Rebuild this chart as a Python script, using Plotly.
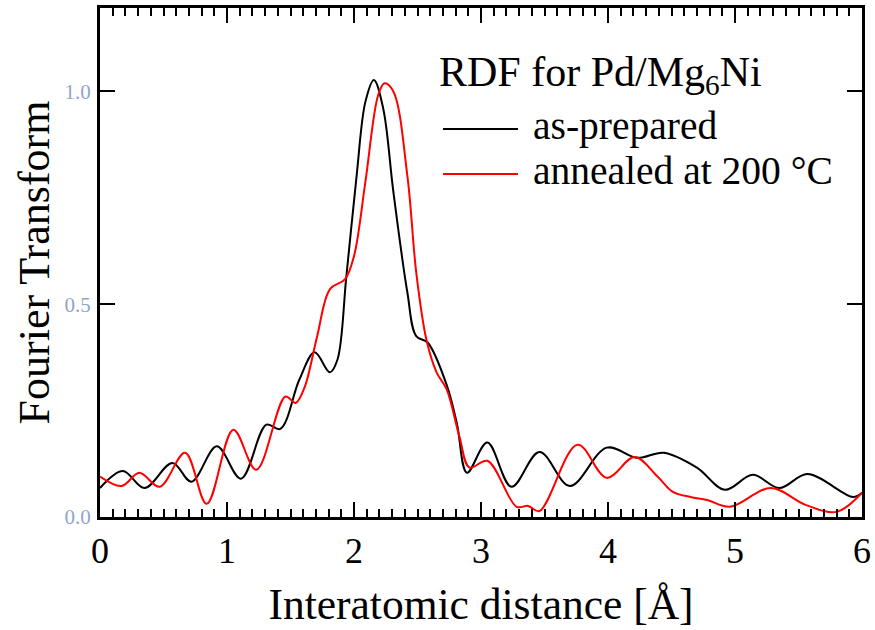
import plotly.graph_objects as go

# ---- data ----
asprep_x = [0.00, 0.18, 0.35, 0.57, 0.72, 0.92, 1.11, 1.31, 1.42, 1.57, 1.69, 1.81, 1.87, 1.94,
            2.02, 2.09, 2.157, 2.23, 2.31, 2.42, 2.49, 2.58, 2.73, 2.81, 2.89, 3.05, 3.24, 3.46,
            3.70, 3.99, 4.23, 4.44, 4.70, 4.92, 5.14, 5.35, 5.57, 5.93, 6.00]
asprep_y = [0.068, 0.108, 0.068, 0.127, 0.083, 0.166, 0.090, 0.217, 0.207, 0.323, 0.387, 0.340, 0.370, 0.566,
            0.800, 0.976, 1.027, 0.960, 0.764, 0.528, 0.425, 0.410, 0.310, 0.220, 0.104, 0.175, 0.071, 0.153,
            0.073, 0.163, 0.139, 0.151, 0.116, 0.064, 0.099, 0.068, 0.101, 0.047, 0.057]

anneal_x = [0.00, 0.17, 0.31, 0.47, 0.67, 0.84, 1.05, 1.23, 1.46, 1.54, 1.61, 1.71, 1.81, 1.93,
            2.00, 2.09, 2.19, 2.24, 2.31, 2.42, 2.49, 2.57, 2.65, 2.73, 2.83, 2.91, 3.05, 3.28,
            3.37, 3.46, 3.76, 3.99, 4.21, 4.39, 4.51, 4.65, 4.78, 4.96, 5.28, 5.56, 5.80, 6.00]
anneal_y = [0.095, 0.073, 0.104, 0.071, 0.151, 0.031, 0.205, 0.111, 0.283, 0.268, 0.304, 0.425, 0.535, 0.559,
            0.613, 0.788, 0.991, 1.019, 1.000, 0.802, 0.575, 0.417, 0.340, 0.300, 0.189, 0.116, 0.132, 0.024,
            0.026, 0.014, 0.170, 0.092, 0.141, 0.095, 0.059, 0.047, 0.040, 0.024, 0.068, 0.028, 0.012, 0.057]

x_ticks = [0, 1, 2, 3, 4, 5, 6]
y_ticks = [0.0, 0.5, 1.0]
y_tick_labels = ["0.0", "0.5", "1.0"]

legend_title = "RDF for Pd/Mg<sub>6</sub>Ni"
series_names = ["as-prepared", "annealed at 200 °C"]
series_colors = ["#000000", "#ff0000"]

FONT = "Liberation Serif"

fig = go.Figure()
fig.add_trace(go.Scatter(x=asprep_x, y=asprep_y, mode="lines", name=series_names[0],
                         line=dict(color=series_colors[0], width=2, shape="spline", smoothing=1.0)))
fig.add_trace(go.Scatter(x=anneal_x, y=anneal_y, mode="lines", name=series_names[1],
                         line=dict(color=series_colors[1], width=2, shape="spline", smoothing=1.0)))

W, H = 875, 630
L, R, T, B = 100, 13, 8, 113
pw, ph = W - L - R, H - T - B

def px(xp):
    return (xp - L) / pw

def py(yp):
    return (H - B - yp) / ph

# legend drawn as annotations + line samples
fig.add_annotation(x=px(437), y=py(75), xref="paper", yref="paper", text=legend_title,
                   showarrow=False, xanchor="left", yanchor="middle",
                   font=dict(family=FONT, size=42, color="black"))
for i, (name, col) in enumerate(zip(series_names, series_colors)):
    yl = [129, 174][i]
    fig.add_shape(type="line", xref="paper", yref="paper", x0=px(443), x1=px(518),
                  y0=py(yl), y1=py(yl), line=dict(color=col, width=2))
    fig.add_annotation(x=px(531), y=py(yl - 3), xref="paper", yref="paper", text=name,
                       showarrow=False, xanchor="left", yanchor="middle",
                       font=dict(family=FONT, size=39.5, color="black"))

fig.update_layout(
    width=W, height=H,
    margin=dict(l=L, r=R, t=T, b=B, autoexpand=False),
    paper_bgcolor="white", plot_bgcolor="white",
    showlegend=False,
    font=dict(family=FONT, color="black"),
    xaxis=dict(range=[0, 6], tickvals=x_ticks, ticks="inside", ticklen=15, tickwidth=2,
               tickcolor="black", showline=True, linewidth=3, linecolor="black", mirror="allticks",
               showgrid=False, zeroline=False, automargin=False,
               minor=dict(dtick=0.1, ticks="inside", ticklen=8, tickwidth=2, tickcolor="black",
                          showgrid=False),
               tickfont=dict(family=FONT, size=36, color="black"), ticklabelstandoff=0,
               title=dict(text="Interatomic distance [Å]", font=dict(family=FONT, size=43.5, color="black"),
                          standoff=19)),
    yaxis=dict(range=[0, 1.196], tickvals=y_ticks, ticktext=y_tick_labels, ticks="inside", ticklen=15,
               tickwidth=2, tickcolor="black", showline=True, linewidth=3, linecolor="black",
               mirror="allticks", showgrid=False, zeroline=False, automargin=False,
               tickfont=dict(family=FONT, size=21, color="#8fa5c8"), ticklabelstandoff=2,
               title=dict(text="Fourier Transform", font=dict(family=FONT, size=44, color="black"),
                          standoff=2)),
)

fig.write_html("out.html", config={"displayModeBar": False},
               post_script="document.body.style.margin='0';document.body.style.padding='0';")
